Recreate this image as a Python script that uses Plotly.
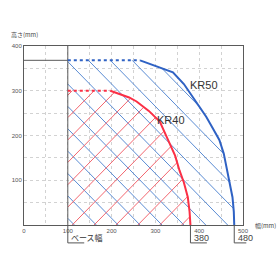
import numpy as np
import plotly.graph_objects as go

# ---- data ----
kr50_dot_x = [100, 265]
kr50_dot_y = [368, 368]
kr50_x = [265, 300, 340, 365, 385, 400, 416, 430, 446, 456, 464, 471, 476, 479, 480]
kr50_y = [368, 356, 341, 315, 287, 265, 242, 218, 190, 160, 122, 90, 62, 30, 0]

kr40_dot_x = [100, 197]
kr40_dot_y = [300, 300]
kr40_x = [197, 216, 240, 257, 285, 310, 329, 345, 355, 365, 374, 378, 380]
kr40_y = [300, 293, 285, 276, 255, 231, 190, 155, 122, 95, 62, 30, 0]

base_width = 100
x_ticks = [0, 100, 200, 300, 400, 500]
y_ticks = [100, 200, 300, 400]
x_range = [0, 500]
y_range = [0, 400]

# ---- style ----
BLUE = "#2f62c4"
BLUE_H = "#5a8cd4"
RED = "#fb2f45"
RED_H = "#f3666f"
FRAME = "#5a5a5a"
GRID = "#d2d2d2"


def hatch(bx, by, slope, spacing, offset, x_min):
    """Build hatch segments y = slope*x + c clipped to x>=x_min, 0<=y<=boundary."""
    bx = np.asarray(bx, float)
    by = np.asarray(by, float)
    xs = np.arange(x_min, bx[-1] + 0.25, 0.25)
    top = np.interp(xs, bx, by)
    out_x, out_y = [], []
    for c in np.arange(-1000 + offset, 1000, spacing):
        ys = slope * xs + c
        m = (ys >= 0) & (ys <= top + 1e-9)
        if m.sum() < 2:
            continue
        idx = np.where(m)[0]
        i0, i1 = idx[0], idx[-1]
        out_x += [xs[i0], xs[i1], None]
        out_y += [ys[i0], ys[i1], None]
    return out_x, out_y


b50x = kr50_dot_x + kr50_x[1:]
b50y = kr50_dot_y + kr50_y[1:]
b40x = kr40_dot_x + kr40_x[1:]
b40y = kr40_dot_y + kr40_y[1:]

hbx, hby = hatch(b50x, b50y, -1, 50, 15, base_width)
hrx, hry = hatch(b40x, b40y, 1, 50, 40, base_width)

fig = go.Figure()
fig.add_trace(go.Scatter(x=hbx, y=hby, mode="lines",
                         line=dict(color=BLUE_H, width=1), hoverinfo="skip"))
fig.add_trace(go.Scatter(x=hrx, y=hry, mode="lines",
                         line=dict(color=RED_H, width=1), hoverinfo="skip"))
# reference lines: base width
fig.add_trace(go.Scatter(x=[base_width, base_width], y=[0, y_range[1]], mode="lines",
                         line=dict(color=FRAME, width=1), hoverinfo="skip"))
fig.add_trace(go.Scatter(x=[0, base_width], y=[kr50_dot_y[0]] * 2, mode="lines",
                         line=dict(color=FRAME, width=1), hoverinfo="skip"))
# curves
fig.add_trace(go.Scatter(x=kr50_dot_x, y=kr50_dot_y, mode="lines",
                         line=dict(color=BLUE, width=2, dash="dot")))
fig.add_trace(go.Scatter(x=kr50_x, y=kr50_y, mode="lines",
                         line=dict(color=BLUE, width=2)))
fig.add_trace(go.Scatter(x=kr40_dot_x, y=kr40_dot_y, mode="lines",
                         line=dict(color=RED, width=2, dash="dot")))
fig.add_trace(go.Scatter(x=kr40_x, y=kr40_y, mode="lines",
                         line=dict(color=RED, width=2)))


def px(x):
    return (x - x_range[0]) / (x_range[1] - x_range[0])


TXT = dict(family="Liberation Sans, Arial, sans-serif", color="#333")
JP = "Noto Sans CJK JP"

annotations = [
    dict(x=410, y=313, xref="x", yref="y", text="KR50", showarrow=False,
         font=dict(size=11, **TXT)),
    dict(x=335, y=235, xref="x", yref="y", text="KR40", showarrow=False,
         font=dict(size=11, **TXT)),
    dict(x=px(base_width) + 0.006, y=-0.07, xref="paper", yref="paper", text="ベース幅",
         showarrow=False, xanchor="left", yanchor="middle",
         font=dict(size=8, family=JP, color="#333")),
    dict(x=px(kr40_x[-1]) + 0.008, y=-0.075, xref="paper", yref="paper", text="380",
         showarrow=False, xanchor="left", yanchor="middle",
         font=dict(size=9, family="Liberation Sans", color="#444")),
    dict(x=px(kr50_x[-1]) + 0.008, y=-0.075, xref="paper", yref="paper", text="480",
         showarrow=False, xanchor="left", yanchor="middle",
         font=dict(size=9, family="Liberation Sans", color="#444")),
    dict(x=1.045, y=0.0, xref="paper", yref="paper", text="幅(mm)", showarrow=False,
         xanchor="left", yanchor="middle", font=dict(size=6, family=JP, color="#444")),
    dict(x=-0.07, y=1.065, xref="paper", yref="paper", text="高さ(mm)", showarrow=False,
         xanchor="left", yanchor="middle", font=dict(size=6, family=JP, color="#444")),
]

shapes = []
for xv, w in [(base_width, 0.075), (kr40_x[-1], 0.075), (kr50_x[-1], 0.055)]:
    shapes.append(dict(type="line", xref="paper", yref="paper", x0=px(xv), x1=px(xv),
                       y0=0, y1=-0.1, line=dict(color="#555", width=1)))
    shapes.append(dict(type="line", xref="paper", yref="paper", x0=px(xv), x1=px(xv) + w,
                       y0=-0.1, y1=-0.1, line=dict(color="#555", width=1)))

grid = dict(showgrid=True, gridcolor=GRID, griddash="dot", gridwidth=1)
fig.update_layout(
    width=280, height=280,
    margin=dict(l=22, r=37, t=46, b=55),
    paper_bgcolor="white", plot_bgcolor="white",
    showlegend=False,
    annotations=annotations,
    shapes=shapes,
    xaxis=dict(range=x_range, tickvals=x_ticks, ticks="", zeroline=False,
               showline=True, mirror=True, linecolor=FRAME, linewidth=1,
               tickfont=dict(size=6, color="#555", family="Liberation Sans"),
               minor=dict(dtick=50, tick0=0, showgrid=True, gridcolor=GRID, griddash="dot"),
               **grid),
    yaxis=dict(range=y_range, tickvals=y_ticks, ticks="", zeroline=False,
               showline=True, mirror=True, linecolor=FRAME, linewidth=1,
               tickfont=dict(size=6, color="#555", family="Liberation Sans"),
               minor=dict(dtick=50, tick0=0, showgrid=True, gridcolor=GRID, griddash="dot"),
               **grid),
)

fig.write_html("out.html")
